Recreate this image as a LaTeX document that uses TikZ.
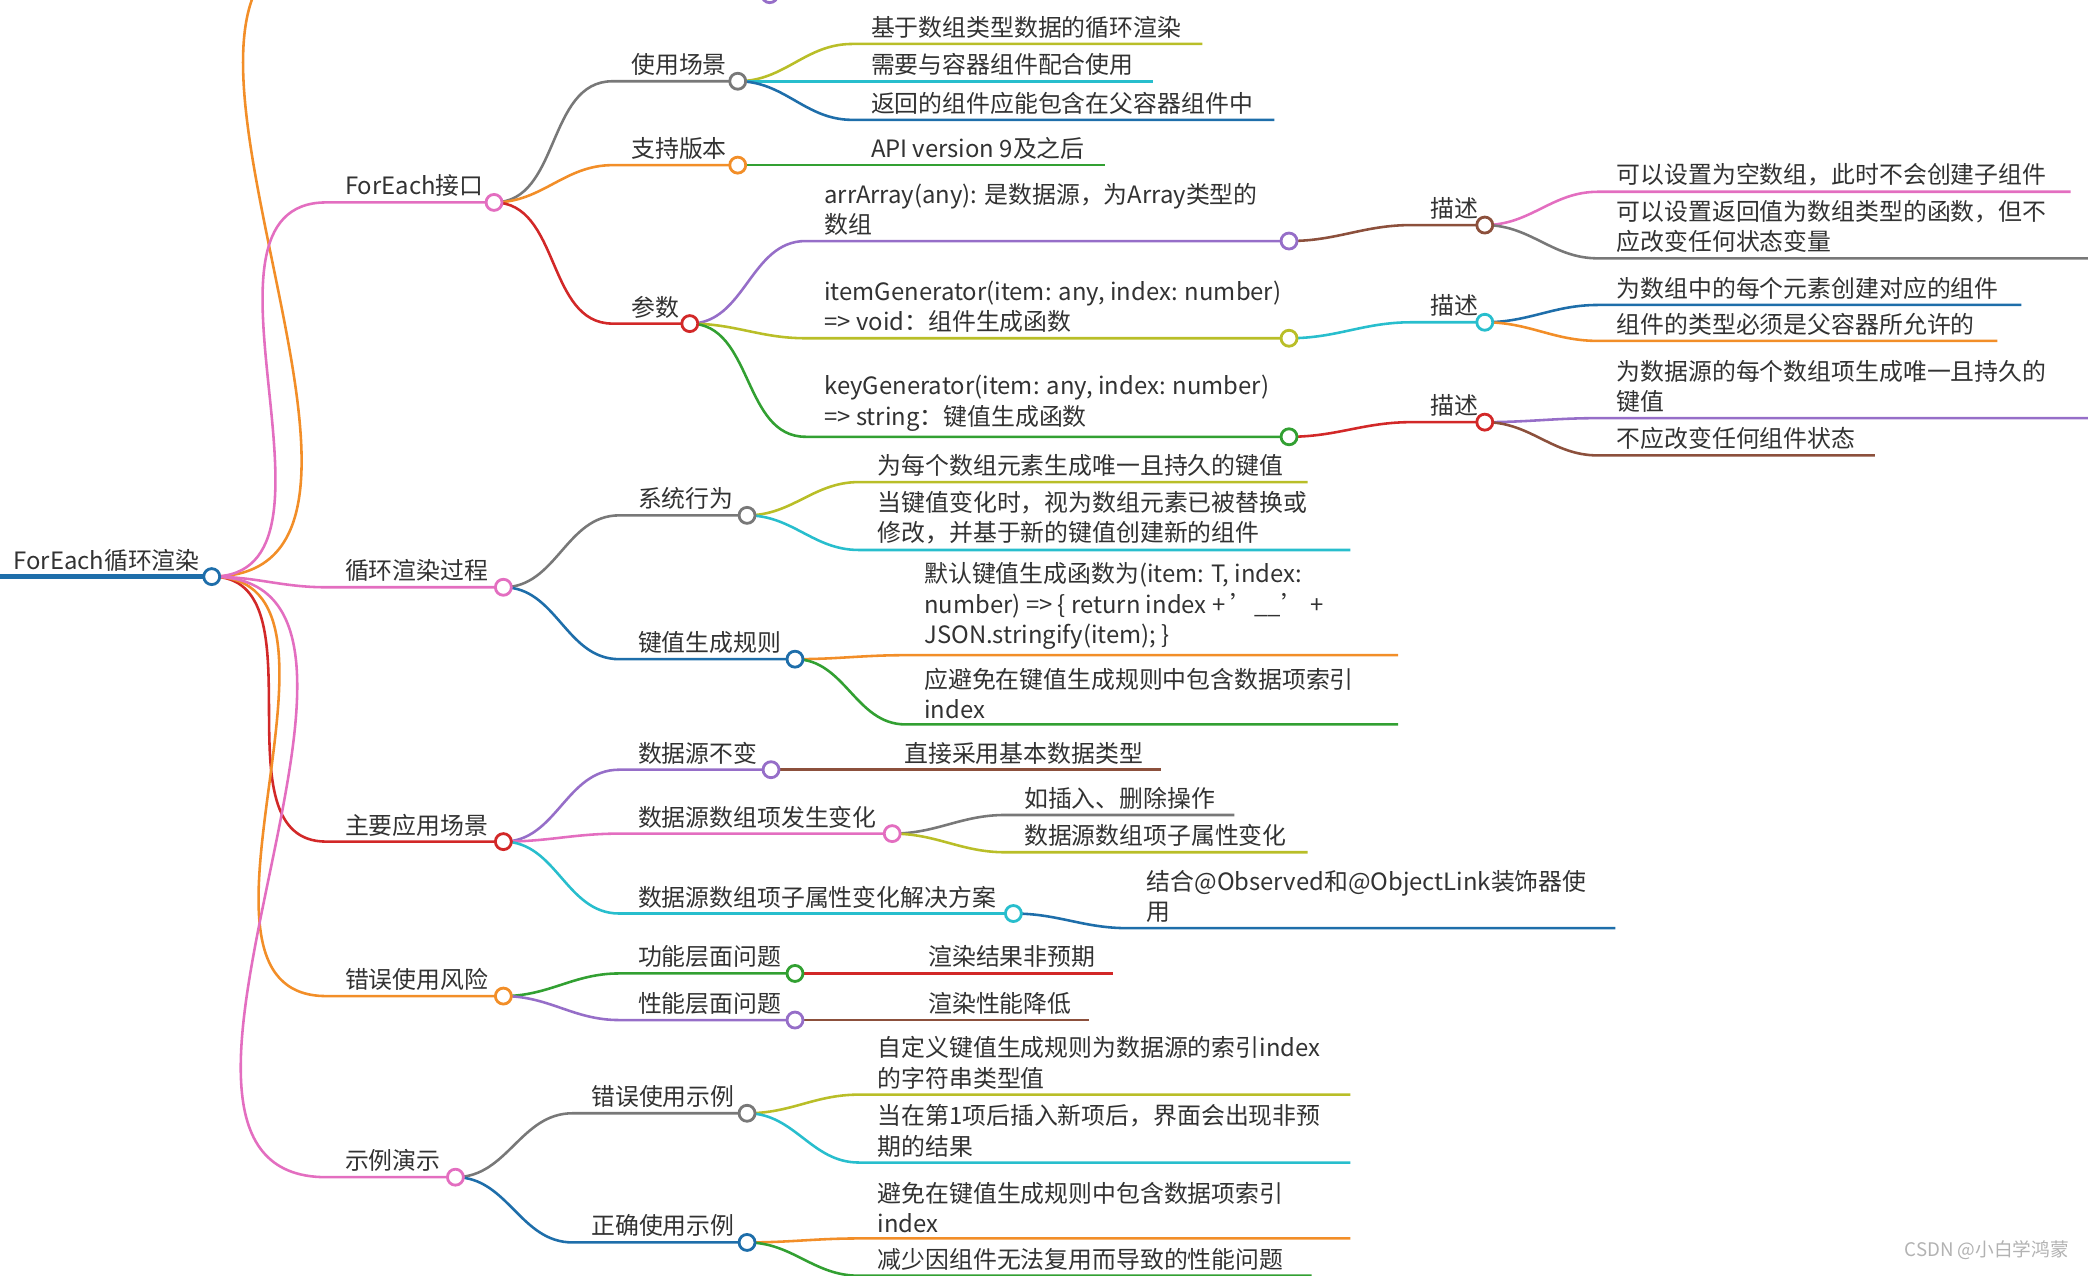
\documentclass[tikz,border=0pt]{standalone}
\usepackage{fontspec}
\setmainfont{Noto Sans CJK SC}
\usetikzlibrary{calc}

\definecolor{cpink}{RGB}{227,110,192}
\definecolor{cgray}{RGB}{120,120,120}
\definecolor{corange}{RGB}{242,142,40}
\definecolor{cred}{RGB}{210,40,40}
\definecolor{cpurple}{RGB}{150,110,200}
\definecolor{colive}{RGB}{185,190,40}
\definecolor{cteal}{RGB}{40,190,205}
\definecolor{cblue}{RGB}{30,110,170}
\definecolor{cgreen}{RGB}{50,160,50}
\definecolor{cbrown}{RGB}{140,80,60}
\definecolor{ctext}{RGB}{50,50,50}

\tikzset{
  edge/.style={line width=1.1pt},
  lbl/.style={anchor=south west, align=left, inner sep=1pt, text=ctext,
    font=\fontsize{10.2}{13}\selectfont},
  knot/.style={circle, draw=#1, fill=white, line width=1.2pt, minimum size=0.24cm, inner sep=0pt}
}

% parent, colour, name, x start, x end, y, text
\newcommand\mbranch[7]{%
  \coordinate (#3s) at (#4,#6);
  \coordinate (#3) at (#5,#6);
  \draw[edge,#2] (#1) to[out=0,in=180] (#3s) -- (#3);
  \node[lbl] (#3t) at ($(#3s)+(12,-2)$) {#7};
}
\newcommand\mknot[2]{\node[knot=#2] at (#1) {};}

\begin{document}
\begin{tikzpicture}[x=0.02cm,y=-0.02cm]
  \useasboundingbox (0,0) rectangle (1568,958);
  \clip (0,0) rectangle (1568,958);

  % root
  \coordinate (roots) at (0,433);
  \coordinate (root) at (159,433);
  \draw[line width=2.2pt,cblue] (roots) -- (root);
  \node[lbl] (roott) at ($(roots)+(8,-2)$) {ForEach循环渲染};

  % cut-off branch at the top
  \coordinate (topb) at (250,-40);
  \draw[edge,corange] (root) to[out=0,in=180] (topb);
  \node[knot=cpurple] (topk) at (578,-4) {};

  % main branches
  \mbranch{root}{cpink}{api}{245}{371}{152}{ForEach接口}
  \mbranch{root}{cpink}{proc}{245}{378}{441}{循环渲染过程}
  \mbranch{root}{cred}{app}{245}{378}{632}{主要应用场景}
  \mbranch{root}{corange}{risk}{245}{378}{748}{错误使用风险}
  \mbranch{root}{cpink}{demo}{245}{342}{884}{示例演示}

  % ForEach接口
  \mbranch{api}{cgray}{use}{460}{554}{61}{使用场景}
  \mbranch{use}{colive}{use1}{640}{903}{33}{基于数组类型数据的循环渲染}
  \mbranch{use}{cteal}{use2}{640}{866}{61}{需要与容器组件配合使用}
  \mbranch{use}{cblue}{use3}{640}{957}{90}{返回的组件应能包含在父容器组件中}
  \mbranch{api}{corange}{ver}{460}{554}{124}{支持版本}
  \mbranch{ver}{cgreen}{ver1}{640}{830}{124}{API version 9及之后}
  \mbranch{api}{cred}{par}{460}{518}{243}{参数}

  \mbranch{par}{cpurple}{arr}{605}{968}{181}{arrArray(any): 是数据源，为Array类型的\\数组}
  \mbranch{arr}{cbrown}{arrd}{1060}{1115}{169}{描述}
  \mbranch{arrd}{cpink}{arrd1}{1200}{1555}{144}{可以设置为空数组，此时不会创建子组件}
  \mbranch{arrd}{cgray}{arrd2}{1200}{1568}{194}{可以设置返回值为数组类型的函数，但不\\应改变任何状态变量}

  \mbranch{par}{colive}{item}{605}{968}{254}{itemGenerator(item: any, index: number)\\=> void：组件生成函数}
  \mbranch{item}{cteal}{itemd}{1060}{1115}{242}{描述}
  \mbranch{itemd}{cblue}{itemd1}{1200}{1518}{229}{为数组中的每个元素创建对应的组件}
  \mbranch{itemd}{corange}{itemd2}{1200}{1500}{256}{组件的类型必须是父容器所允许的}

  \mbranch{par}{cgreen}{key}{605}{968}{328}{keyGenerator(item: any, index: number)\\=> string：键值生成函数}
  \mbranch{key}{cred}{keyd}{1060}{1115}{317}{描述}
  \mbranch{keyd}{cpurple}{keyd1}{1200}{1568}{314}{为数据源的每个数组项生成唯一且持久的\\键值}
  \mbranch{keyd}{cbrown}{keyd2}{1200}{1408}{342}{不应改变任何组件状态}

  % 循环渲染过程
  \mbranch{proc}{cgray}{sys}{465}{561}{387}{系统行为}
  \mbranch{sys}{colive}{sys1}{645}{982}{362}{为每个数组元素生成唯一且持久的键值}
  \mbranch{sys}{cteal}{sys2}{645}{1014}{413}{当键值变化时，视为数组元素已被替换或\\修改，并基于新的键值创建新的组件}
  \mbranch{proc}{cblue}{rule}{465}{597}{495}{键值生成规则}
  \mbranch{rule}{corange}{rule1}{680}{1050}{492}{默认键值生成函数为(item: T, index:\\number) => \{ return index + \symbol{39}\_\_\symbol{39} +\\JSON.stringify(item); \}}
  \mbranch{rule}{cgreen}{rule2}{680}{1050}{544}{应避免在键值生成规则中包含数据项索引\\index}

  % 主要应用场景
  \mbranch{app}{cpurple}{same}{465}{579}{578}{数据源不变}
  \mbranch{same}{cbrown}{same1}{665}{872}{578}{直接采用基本数据类型}
  \mbranch{app}{cpink}{chg}{465}{670}{626}{数据源数组项发生变化}
  \mbranch{chg}{cgray}{chg1}{755}{927}{612}{如插入、删除操作}
  \mbranch{chg}{colive}{chg2}{755}{982}{640}{数据源数组项子属性变化}
  \mbranch{app}{cteal}{sol}{465}{761}{686}{数据源数组项子属性变化解决方案}
  \mbranch{sol}{cblue}{sol1}{847}{1213}{697}{结合@Observed和@ObjectLink装饰器使\\用}

  % 错误使用风险
  \mbranch{risk}{cgreen}{func}{465}{597}{731}{功能层面问题}
  \mbranch{func}{cred}{func1}{683}{836}{731}{渲染结果非预期}
  \mbranch{risk}{cpurple}{perf}{465}{597}{766}{性能层面问题}
  \mbranch{perf}{cbrown}{perf1}{683}{818}{766}{渲染性能降低}

  % 示例演示
  \mbranch{demo}{cgray}{bad}{430}{561}{836}{错误使用示例}
  \mbranch{bad}{colive}{bad1}{645}{1014}{822}{自定义键值生成规则为数据源的索引index\\的字符串类型值}
  \mbranch{bad}{cteal}{bad2}{645}{1014}{873}{当在第1项后插入新项后，界面会出现非预\\期的结果}
  \mbranch{demo}{cblue}{good}{430}{561}{933}{正确使用示例}
  \mbranch{good}{corange}{good1}{645}{1014}{930}{避免在键值生成规则中包含数据项索引\\index}
  \mbranch{good}{cgreen}{good2}{645}{985}{958}{减少因组件无法复用而导致的性能问题}

  % knots
  \mknot{root}{cblue}
  \mknot{api}{cpink}
  \mknot{proc}{cpink}
  \mknot{app}{cred}
  \mknot{risk}{corange}
  \mknot{demo}{cpink}
  \mknot{use}{cgray}
  \mknot{ver}{corange}
  \mknot{par}{cred}
  \mknot{arr}{cpurple}
  \mknot{arrd}{cbrown}
  \mknot{item}{colive}
  \mknot{itemd}{cteal}
  \mknot{key}{cgreen}
  \mknot{keyd}{cred}
  \mknot{sys}{cgray}
  \mknot{rule}{cblue}
  \mknot{same}{cpurple}
  \mknot{chg}{cpink}
  \mknot{sol}{cteal}
  \mknot{func}{cgreen}
  \mknot{perf}{cpurple}
  \mknot{bad}{cgray}
  \mknot{good}{cblue}

  \node[anchor=south east, text=gray!60, font=\fontsize{8}{9}\selectfont] (mark) at (1560,952) {CSDN @小白学鸿蒙};
\end{tikzpicture}
\end{document}
